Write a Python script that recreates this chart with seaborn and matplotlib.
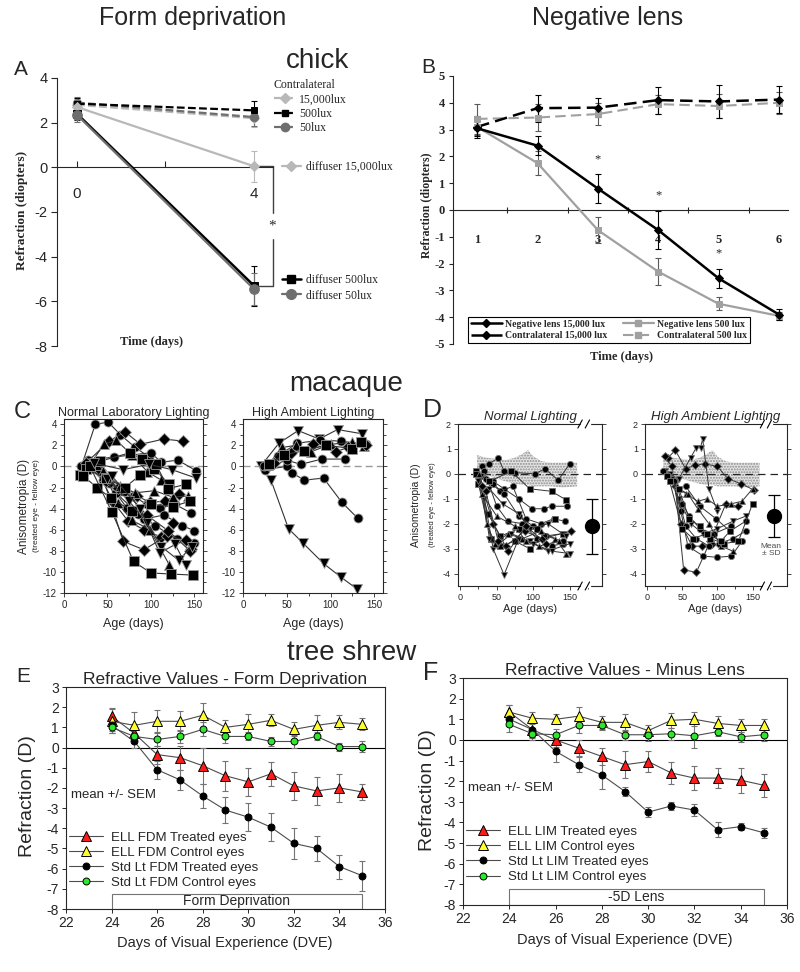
import numpy as np
import pandas as pd
import matplotlib.pyplot as plt
import seaborn as sns
from matplotlib.lines import Line2D
from matplotlib.patches import Rectangle
from matplotlib.ticker import MultipleLocator, FixedLocator

# ---------------- data ----------------
# A: chick, form deprivation (refraction, D)
a_days = [0, 4]
a_contra_15000 = [2.8, 2.2]
a_contra_500 = [2.85, 2.55]
a_contra_50 = [2.9, 2.25]
a_contra_err = [0.25, 0.4]
a_diff_15000 = [2.7, 0.05]
a_diff_15000_err = [0.3, 0.7]
a_diff_500 = [2.4, -5.3]
a_diff_500_err = [0.3, 0.9]
a_diff_50 = [2.35, -5.45]
a_diff_50_err = [0.3, 0.7]

# B: chick, negative lens
b_days = [1, 2, 3, 4, 5, 6]
b_neg_15000 = [3.05, 2.4, 0.8, -0.75, -2.55, -3.9]
b_neg_15000_err = [0.3, 0.35, 0.55, 0.7, 0.35, 0.2]
b_neg_500 = [3.1, 1.75, -0.75, -2.3, -3.5, -3.95]
b_neg_500_err = [0.3, 0.45, 0.5, 0.5, 0.25, 0.15]
b_con_15000 = [3.1, 3.8, 3.82, 4.1, 4.05, 4.12]
b_con_15000_err = [0.4, 0.5, 0.35, 0.5, 0.6, 0.5]
b_con_500 = [3.4, 3.45, 3.58, 3.95, 3.88, 4.0]
b_con_500_err = [0.55, 0.5, 0.4, 0.35, 0.45, 0.4]
b_star_days = [3, 4, 5]
b_star_vals = [1.9, 0.55, -1.6]

# C: macaque, individual animals (age in days, anisometropia D)
c_norm_shapes = ['o', 'D', '^', 's', 'o', 'v', 's', 'D', 'o', '^',
                 's', 'D', 'o', '^', 's', 'D', 'v', 'o', 'v', 'D']
c_norm_ages = [
    [20, 36, 51, 65, 82, 98], [25, 52, 70, 88, 115, 137], [30, 46, 60, 78, 96, 112],
    [18, 42, 76, 90, 104, 121], [28, 58, 100, 112, 131, 152], [35, 68, 98, 124, 152],
    [25, 48, 70, 88, 106, 120, 140], [40, 62, 84, 99, 116, 132],
    [30, 45, 66, 80, 95, 110, 128, 146], [38, 65, 82, 104, 125, 143],
    [22, 38, 54, 78, 100, 125, 145], [35, 58, 74, 92, 112, 125],
    [26, 52, 72, 92, 115, 136, 150], [45, 62, 78, 99, 121], [30, 55, 80, 100, 123, 148],
    [42, 68, 92, 118, 140, 146], [50, 75, 96, 112, 132, 147], [60, 85, 105, 130, 150],
    [55, 88, 110, 128, 140], [48, 70, 95, 120, 145]]
c_norm_vals = [
    [0.0, 4.0, 4.2, 3.0, 1.8, 0.9], [0.3, 2.4, 3.3, 2.1, 2.6, 2.4], [0.2, 2.1, 2.5, 1.1, -0.5, -1.3],
    [-0.8, 0.5, 1.3, 0.7, -0.2, -1.7], [0.6, 0.9, 1.3, 0.4, 0.6, -0.4], [0.3, -0.3, 0.2, -0.3, -1.1],
    [-0.2, -1.1, -2.0, -0.8, 0.2, -2.1, -1.7], [-0.4, -2.0, -2.8, -3.4, -3.3, -2.6],
    [-0.2, -1.3, -2.3, -2.8, -3.6, -3.9, -3.6, -4.4], [0.1, -1.9, -2.5, -2.3, -2.9, -2.8],
    [-0.9, -2.0, -3.0, -4.2, -3.6, -3.8, -3.3], [0.0, -3.5, -5.2, -6.0, -6.7, -5.4],
    [0.3, -1.6, -3.9, -5.0, -4.6, -5.6, -6.1], [-0.4, -3.5, -5.1, -6.0, -9.3],
    [0.0, -4.3, -9.0, -10.1, -10.2, -10.3], [-0.3, -7.1, -7.9, -6.6, -7.0, -7.8],
    [-1.2, -3.3, -5.4, -7.6, -8.9, -7.6], [-2.5, -4.5, -5.6, -6.9, -7.3],
    [-0.9, -4.0, -8.2, -7.4, -9.3], [-1.4, -2.3, -4.6, -6.1, -8.0]]

c_high_shapes = ['v', 'o', 'o', 'v', '^', 'D', 'o', 's']
c_high_ages = [
    [22, 32, 52, 69, 92, 112, 130], [25, 50, 56, 70, 92, 113, 131], [30, 50, 66, 90, 116],
    [20, 41, 63, 87, 108, 136], [28, 45, 60, 78, 100, 125, 138], [35, 55, 80, 106, 120, 140],
    [24, 40, 62, 88, 112, 140], [30, 47, 70, 95, 125, 135]]
c_high_vals = [
    [0.0, -1.3, -5.9, -7.3, -9.2, -10.5, -11.6], [-0.3, 0.0, -0.6, -1.3, -1.1, -3.4, -4.9],
    [0.0, 0.6, 0.2, 0.7, 0.7], [0.0, 2.2, 3.4, 2.6, 3.5, 3.1], [0.1, 1.8, 2.0, 1.4, 2.1, 2.3, 1.9],
    [0.3, 1.3, 2.1, 1.4, 1.8, 2.0], [0.0, 1.0, 2.2, 2.5, 2.4, 2.1], [0.2, 1.1, 1.5, 2.0, 1.7, 2.3]]

# D: macaque, individual animals
d_norm_shapes = ['o', 's', 'o', 'o', 'v', '^', 's', 'D', 'v', 'o', 's', '^', 'D', 'v', 'o']
d_norm_ages = [
    [30, 40, 52, 60, 75, 102, 116, 134, 150], [22, 40, 70, 95, 125, 145],
    [28, 45, 60, 80, 98, 114, 125, 146], [35, 55, 72, 90, 110, 128, 143],
    [24, 32, 40, 50, 70, 95, 120, 150], [26, 36, 48, 65, 85, 110, 130, 145],
    [22, 38, 55, 80, 105, 130], [30, 45, 62, 88, 112, 152], [28, 45, 60, 80, 100, 125, 150],
    [33, 50, 65, 85, 105, 125, 140], [25, 42, 55, 75, 95, 115, 140], [30, 50, 75, 90, 108, 135],
    [35, 52, 66, 90, 118], [40, 58, 80, 95, 120, 145], [45, 60, 80, 100, 118, 140]]
d_norm_vals = [
    [0.3, 0.4, 0.65, 0.1, 0.05, 0.0, 0.2, -0.25, 0.4], [0.1, -0.3, 0.1, -0.6, -0.7, -1.05],
    [-0.1, -0.3, -0.6, -1.0, -1.4, -1.4, -1.3, -1.3], [-0.2, -0.7, -0.5, -1.8, -2.0, -1.8, -1.9],
    [-0.3, -1.0, -2.6, -2.9, -2.4, -2.7, -3.1, -2.8], [0.0, -2.0, -2.8, -2.4, -2.6, -2.3, -2.6, -3.2],
    [0.0, -1.6, -2.5, -2.2, -2.2, -1.8], [-0.5, -2.0, -2.9, -2.3, -2.6, -2.3],
    [-0.1, -3.0, -4.05, -2.6, -2.8, -3.1, -3.2], [0.1, -1.3, -1.9, -2.0, -2.6, -2.9, -2.8],
    [-0.4, -2.6, -2.9, -2.7, -3.0, -2.5, -2.4], [-0.8, -1.7, -2.1, -2.7, -2.9, -2.7],
    [-0.7, -2.7, -3.1, -2.1, -2.8], [-0.6, -1.2, -1.6, -2.2, -2.0, -2.5],
    [-0.4, -0.8, -1.7, -2.1, -2.5, -2.7]]

d_high_shapes = ['D', 'v', 'o', '^', 's', 'D', 'o', 'v', 'o', '^', 's', 'D', 'o']
d_high_ages = [
    [30, 40, 55, 68, 82, 100, 115, 134, 152], [25, 45, 62, 70, 76, 79, 88, 100],
    [22, 30, 40, 50, 60, 75, 95, 120], [30, 42, 55, 72, 85, 100, 120, 135, 150],
    [28, 45, 60, 75, 90, 110, 130, 150], [40, 52, 70, 90, 112, 130],
    [35, 48, 58, 80, 100, 120, 135], [32, 45, 62, 80, 100, 122, 140],
    [38, 55, 70, 88, 102, 122, 140], [45, 58, 72, 88, 105, 122],
    [32, 50, 65, 85, 105, 118], [25, 35, 48, 64, 78, 92], [55, 75, 98, 118, 140]]
d_high_vals = [
    [0.65, 0.95, 0.2, 0.35, 0.4, 0.3, -0.2, -0.4, -0.65], [0.1, -0.2, 0.65, 1.05, 1.05, 1.4, -0.6, -1.5],
    [0.1, -0.1, -0.3, -1.2, -1.7, -2.2, -2.4, -2.1], [0.0, -0.5, -0.8, -1.1, -1.0, -1.3, -1.2, -1.1, -0.6],
    [-0.1, -0.6, -1.8, -2.1, -2.6, -2.8, -2.7, -1.2], [-0.5, -3.85, -3.95, -2.7, -1.2, -1.3],
    [-0.2, -1.5, -2.9, -3.3, -3.35, -3.3, -2.7], [0.0, -1.0, -2.0, -2.4, -2.2, -1.9, -1.7],
    [-0.3, -2.1, -2.6, -2.9, -2.8, -2.6, -2.3], [-0.6, -0.8, -1.4, -2.0, -2.9, -3.1],
    [-0.3, -2.2, -2.6, -2.4, -2.7, -2.3], [0.7, 0.3, -2.0, -2.9, -2.9, -2.8],
    [-0.5, -1.3, -1.8, -2.3, -1.9]]

# normal range band (controls)
band_ages = [23, 35, 50, 62, 75, 85, 93, 100, 112, 125, 140, 160]
band_hi = [0.75, 0.65, 0.6, 0.55, 0.65, 0.8, 0.95, 0.7, 0.5, 0.45, 0.45, 0.45]
band_lo = [0.05, -0.05, -0.2, -0.3, -0.4, -0.45, -0.45, -0.5, -0.5, -0.5, -0.55, -0.5]
d_mean_age = 180
d_norm_mean, d_norm_sd = -2.1, 1.1
d_high_mean, d_high_sd = -1.7, 0.85

# E / F: tree shrew
e_days = list(range(24, 36))
e_ell_treated = [1.55, 0.7, -0.35, -0.5, -0.9, -1.4, -1.7, -1.3, -1.9, -2.15, -2.0, -2.2]
e_ell_treated_err = [0.4, 0.45, 0.45, 0.6, 0.9, 0.75, 0.7, 0.6, 0.7, 0.7, 0.7, 0.4]
e_ell_control = [1.3, 1.1, 1.3, 1.3, 1.6, 1.0, 1.15, 1.35, 0.9, 1.1, 1.25, 1.15]
e_ell_control_err = [0.6, 0.65, 0.55, 0.5, 0.6, 0.35, 0.5, 0.3, 0.35, 0.5, 0.35, 0.3]
e_std_treated = [1.1, 0.3, -1.1, -1.6, -2.4, -3.1, -3.45, -3.95, -4.75, -5.0, -5.9, -6.35]
e_std_treated_err = [0.3, 0.3, 0.45, 0.5, 0.6, 0.65, 0.7, 0.7, 0.75, 0.6, 0.6, 0.75]
e_std_control = [1.0, 0.55, 0.4, 0.55, 0.9, 0.55, 0.55, 0.3, 0.3, 0.55, 0.05, 0.05]
e_std_control_err = [0.3, 0.3, 0.3, 0.3, 0.35, 0.3, 0.2, 0.2, 0.3, 0.2, 0.2, 0.25]

f_days = list(range(24, 36))
f_ell_treated = [1.35, 0.5, 0.0, -0.4, -0.8, -1.2, -1.05, -1.6, -1.85, -1.85, -1.95, -2.2]
f_ell_treated_err = [0.35, 0.35, 0.35, 0.4, 0.4, 0.65, 0.5, 0.55, 0.6, 0.5, 0.6, 0.55]
f_ell_control = [1.35, 1.05, 1.0, 1.15, 0.85, 0.85, 0.45, 0.95, 1.0, 0.8, 0.7, 0.7]
f_ell_control_err = [0.35, 0.3, 0.25, 0.45, 0.3, 0.4, 0.25, 0.35, 0.35, 0.35, 0.3, 0.3]
f_std_treated = [1.0, 0.5, -0.55, -1.2, -1.7, -2.5, -3.5, -3.2, -3.4, -4.35, -4.2, -4.5]
f_std_treated_err = [0.3, 0.4, 0.5, 0.35, 0.7, 0.2, 0.25, 0.2, 0.3, 0.35, 0.15, 0.25]
f_std_control = [0.75, 0.3, 0.25, 0.7, 0.7, 0.25, 0.25, 0.3, 0.2, 0.4, 0.15, 0.25]
f_std_control_err = [0.35, 0.3, 0.3, 0.35, 0.2, 0.25, 0.3, 0.3, 0.6, 0.2, 0.25, 0.3]

# ---------------- style ----------------
sns.set_style('ticks')
plt.rcParams['font.family'] = ['Liberation Sans', 'DejaVu Sans']
plt.rcParams['axes.unicode_minus'] = False
plt.rcParams['axes.linewidth'] = 0.8
SERIF = ['Liberation Serif', 'DejaVu Serif']

W, H = 800, 972
fig = plt.figure(figsize=(W / 100, H / 100), dpi=100)


def add_ax(l, t, r, b):
    return fig.add_axes([l / W, 1 - b / H, (r - l) / W, (b - t) / H])


def ftext(x, y, s, **kw):
    kw.setdefault('ha', 'center')
    kw.setdefault('va', 'center')
    fig.text(x / W, 1 - y / H, s, **kw)


def draw(ax, x, y, err, color, marker, ms, ls='-', lw=1.5, mfc=None, mec=None,
         ecolor=None, capsize=2, label=None, z=3):
    if err is not None:
        ax.errorbar(x, y, yerr=err, fmt='none', ecolor=ecolor or color,
                    elinewidth=0.8, capsize=capsize, capthick=0.8, zorder=z - 1)
    sns.lineplot(x=x, y=y, ax=ax, color=color, lw=lw, linestyle=ls, marker=marker,
                 markersize=ms, markerfacecolor=mfc or color,
                 markeredgecolor=mec or color, markeredgewidth=0.7,
                 label=label, zorder=z, legend=False if label is None else 'auto')


def animal_lines(ax, shapes, ages, vals, ms, mec, lw):
    rows = []
    for i, (m, a, v) in enumerate(zip(shapes, ages, vals)):
        for x, y in zip(a, v):
            rows.append({'animal': i, 'shape': m, 'age': x, 'aniso': y})
    df = pd.DataFrame(rows)
    sns.lineplot(data=df, x='age', y='aniso', units='animal', estimator=None,
                 style='shape', markers={s: s for s in set(shapes)}, dashes=False,
                 color='0.2', lw=lw, markersize=ms, markerfacecolor='k',
                 markeredgecolor=mec, markeredgewidth=0.6, legend=False, ax=ax)
    ax.set_xlabel('')
    ax.set_ylabel('')


# ---------------- headers ----------------
ftext(193, 18, 'Form deprivation', fontsize=18)
ftext(608, 18, 'Negative lens', fontsize=18)
ftext(318, 68, 'chick', fontsize=20, va='baseline')
ftext(346, 391, 'macaque', fontsize=20, va='baseline')
ftext(352, 660, 'tree shrew', fontsize=20, va='baseline')
ftext(21, 75, 'A', fontsize=15, va='baseline')
ftext(428, 73, 'B', fontsize=15, va='baseline')
ftext(22, 418, 'C', fontsize=17, va='baseline')
ftext(432, 417, 'D', fontsize=19, va='baseline')
ftext(23, 682, 'E', fontsize=15, va='baseline')
ftext(431, 680, 'F', fontsize=18, va='baseline')

# ---------------- A ----------------
LG, DG = '#b8b8b8', '#6e6e6e'
axA = add_ax(57, 78, 273, 346)
dash = (0, (3.5, 1.5))
draw(axA, a_days, a_contra_15000, a_contra_err, LG, 'D', 5, ls=dash, lw=1.6)
draw(axA, a_days, a_contra_50, a_contra_err, DG, 'o', 6, ls=dash, lw=1.6)
draw(axA, a_days, a_contra_500, a_contra_err, 'k', 's', 5, ls=dash, lw=1.6)
draw(axA, a_days, a_diff_15000, a_diff_15000_err, LG, 'D', 5, lw=1.6)
draw(axA, a_days, a_diff_500, a_diff_500_err, 'k', 's', 6, lw=1.8)
draw(axA, a_days, a_diff_50, a_diff_50_err, DG, 'o', 7, lw=1.6)
axA.set_xlim(-0.45, 4.43)
axA.set_ylim(-8, 4)
for s in ['top', 'right']:
    axA.spines[s].set_visible(False)
axA.spines['bottom'].set_position(('data', 0))
axA.set_xticks([0, 2, 4])
axA.set_xticklabels(['0', '', '4'])
axA.tick_params(axis='x', direction='in', length=4, width=0.8, pad=14, labelsize=11)
axA.set_yticks(range(-8, 5, 2))
axA.tick_params(axis='y', length=4, width=0.8, labelsize=10.5, pad=3)
axA.set_xlabel('')
axA.set_ylabel('')
bx = 4.42
axA.plot([a_days[1] + 0.08, bx, bx, a_days[1] + 0.08],
         [a_diff_15000[1], a_diff_15000[1], a_diff_500[1], a_diff_500[1]],
         color='0.25', lw=1, clip_on=False)
axA.text(bx, (a_diff_15000[1] + a_diff_500[1]) / 2, '*', ha='center', va='center',
         fontsize=11, backgroundcolor='white', family=SERIF)
ftext(22, 210, 'Refraction (diopters)', rotation=90, fontsize=9.5,
      fontweight='bold', family=SERIF)
ftext(151, 342, 'Time (days)', fontsize=9, fontweight='bold', family=SERIF)

lprop = {'family': SERIF, 'size': 8.5}
hA1 = [Line2D([], [], color=LG, marker='D', ms=5, ls=dash, lw=1.6),
       Line2D([], [], color='k', marker='s', ms=5, ls=dash, lw=1.6),
       Line2D([], [], color=DG, marker='o', ms=6, ls=dash, lw=1.6)]
fig.legend(hA1, ['15,000lux', '500lux', '50lux'], loc='upper left',
           bbox_to_anchor=(274 / W, 1 - 79 / H), title='Contralateral',
           alignment='left', title_fontproperties=lprop, prop=lprop, frameon=False,
           handlelength=1.8, handletextpad=0.3, labelspacing=0.2, borderpad=0,
           borderaxespad=0)
fig.legend([Line2D([], [], color=LG, marker='D', ms=5, lw=1.6)], ['diffuser 15,000lux'],
           loc='center left', bbox_to_anchor=(282 / W, 1 - 167 / H), prop=lprop,
           frameon=False, handlelength=1.6, handletextpad=0.4, borderpad=0, borderaxespad=0)
fig.legend([Line2D([], [], color='k', marker='s', ms=6, lw=1.8),
            Line2D([], [], color=DG, marker='o', ms=7, lw=1.6)],
           ['diffuser 500lux', 'diffuser 50lux'], loc='upper left',
           bbox_to_anchor=(282 / W, 1 - 274 / H), prop=lprop, frameon=False,
           handlelength=1.6, handletextpad=0.4, labelspacing=0.3, borderpad=0,
           borderaxespad=0)

# ---------------- B ----------------
GB = '#a0a0a0'
axB = add_ax(453, 76, 788, 344)
draw(axB, b_days, b_con_500, b_con_500_err, GB, 's', 5, ls=(0, (5, 2.5)), lw=1.5, capsize=2.5, ecolor='0.35')
draw(axB, b_days, b_con_15000, b_con_15000_err, 'k', 'D', 4, ls=(0, (5, 2.5)), lw=1.8, capsize=2.5)
draw(axB, b_days, b_neg_500, b_neg_500_err, GB, 's', 5, lw=1.6, capsize=2.5, ecolor='0.35')
draw(axB, b_days, b_neg_15000, b_neg_15000_err, 'k', 'D', 4, lw=1.8, capsize=2.5)
for d, v in zip(b_star_days, b_star_vals):
    axB.text(d, v, '*', ha='center', va='center', fontsize=9, family=SERIF)
axB.set_xlim(0.6, 6.15)
axB.set_ylim(-5, 5)
for s in ['top', 'right']:
    axB.spines[s].set_visible(False)
axB.spines['bottom'].set_position(('data', 0))
axB.set_xticks(b_days)
axB.set_xticklabels([str(d) for d in b_days])
axB.xaxis.set_minor_locator(FixedLocator([d + 0.5 for d in b_days[:-1]]))
axB.tick_params(axis='x', which='major', length=0, pad=17)
axB.tick_params(axis='x', which='minor', length=5, width=0.8, direction='inout')
axB.set_yticks(range(-5, 6))
axB.tick_params(axis='y', length=3, width=0.8, pad=3)
for lab in axB.get_xticklabels() + axB.get_yticklabels():
    lab.set_family(SERIF)
    lab.set_fontweight('bold')
    lab.set_fontsize(9)
axB.set_xlabel('')
axB.set_ylabel('')
ftext(427, 205, 'Refraction (diopters)', rotation=90, fontsize=8.5,
      fontweight='bold', family=SERIF)
ftext(621, 357, 'Time (days)', fontsize=9, fontweight='bold', family=SERIF)
hB = [Line2D([], [], color='k', marker='D', ms=4, lw=1.8),
      Line2D([], [], color='k', marker='D', ms=4, lw=1.8, ls=(0, (5, 2.5))),
      Line2D([], [], color=GB, marker='s', ms=5, lw=1.6),
      Line2D([], [], color=GB, marker='s', ms=5, lw=1.5, ls=(0, (5, 2.5)))]
legB = fig.legend(hB, ['Negative lens 15,000 lux', 'Contralateral 15,000 lux',
                       'Negative lens 500 lux', 'Contralateral 500 lux'],
                  ncol=2, loc='lower left', bbox_to_anchor=(468 / W, 1 - 343 / H),
                  prop={'family': SERIF, 'size': 7, 'weight': 'bold'},
                  frameon=True, fancybox=False, edgecolor='k', framealpha=1,
                  handlelength=3.2, handletextpad=0.3, columnspacing=1.6,
                  labelspacing=0.25, borderpad=0.3, borderaxespad=0)
legB.get_frame().set_linewidth(0.8)

# ---------------- C ----------------
axC1 = add_ax(64, 419, 203, 593)
axC2 = add_ax(243, 419, 383, 593)
for ax, title, shapes, ages, vals in [
        (axC1, 'Normal Laboratory Lighting', c_norm_shapes, c_norm_ages, c_norm_vals),
        (axC2, 'High Ambient Lighting', c_high_shapes, c_high_ages, c_high_vals)]:
    ax.axhline(0, color='0.6', ls=(0, (5, 3)), lw=1, zorder=0)
    animal_lines(ax, shapes, ages, vals, ms=6.5, mec='0.6', lw=0.8)
    ax.set_xlim(0, 160)
    ax.set_ylim(-12, 4.5)
    ax.set_yticks(range(-12, 5, 2))
    ax.yaxis.set_minor_locator(MultipleLocator(1))
    ax.set_xticks([0, 50, 100, 150])
    ax.xaxis.set_minor_locator(MultipleLocator(25))
    ax.tick_params(which='both', right=True, labelsize=7, length=3, width=0.6, pad=2)
    ax.tick_params(which='minor', length=2)
    ax.set_title(title, fontsize=9, pad=2)
    ftext((ax.get_position().x0 + ax.get_position().x1) / 2 * W, 624, 'Age (days)', fontsize=9)
ftext(24, 506, 'Anisometropia (D)', rotation=90, fontsize=8.5)
ftext(37, 506, '(treated eye - fellow eye)', rotation=90, fontsize=6)

# ---------------- D ----------------
axD1 = add_ax(458, 424, 602, 586)
axD2 = add_ax(645, 424, 787, 586)
for ax, title, shapes, ages, vals, mean, sd, xmax in [
        (axD1, 'Normal Lighting', d_norm_shapes, d_norm_ages, d_norm_vals,
         d_norm_mean, d_norm_sd, 194),
        (axD2, 'High Ambient Lighting', d_high_shapes, d_high_ages, d_high_vals,
         d_high_mean, d_high_sd, 199)]:
    ax.fill_between(band_ages, band_lo, band_hi, facecolor='0.9', edgecolor='0.55',
                    hatch='......', lw=0, zorder=0)
    ax.axhline(0, color='0.15', ls=(0, (6, 4)), lw=0.9, zorder=1)
    animal_lines(ax, shapes, ages, vals, ms=4.5, mec='0.45', lw=0.7)
    ax.errorbar([d_mean_age], [mean], yerr=[sd], fmt='o', color='k', ms=10,
                capsize=4, elinewidth=0.9, capthick=0.9, zorder=4)
    ax.set_xlim(-3, xmax)
    ax.set_ylim(-4.5, 2)
    ax.set_yticks(range(-4, 3))
    ax.set_xticks([0, 50, 100, 150])
    ax.xaxis.set_minor_locator(MultipleLocator(25))
    ax.tick_params(which='both', right=True, labelsize=6.5, length=3, width=0.6, pad=2)
    ax.tick_params(which='minor', length=2)
    ax.set_title(title, fontsize=9.5, style='italic', pad=3)
    tr = ax.get_xaxis_transform()
    for yy in (0, 1):
        ax.plot([166, 176], [yy, yy], color='white', lw=2.5, transform=tr,
                clip_on=False, zorder=6)
        for xx in (164, 174):
            ax.plot([xx - 3, xx + 3], [yy - 0.025, yy + 0.025], color='k', lw=0.8,
                    transform=tr, clip_on=False, zorder=7)
ftext(530, 609, 'Age (days)', fontsize=8)
ftext(715, 609, 'Age (days)', fontsize=8)
ftext(771, 550, 'Mean\n± SD', fontsize=6, color='0.3', linespacing=1.1)
ftext(416, 505, 'Anisometropia (D)', rotation=90, fontsize=7.5)
ftext(432, 505, '(treated eye - fellow eye)', rotation=90, fontsize=5.5)

# ---------------- E / F ----------------
RED, YEL, GRN = '#ff1a1a', '#ffff2e', '#2ee62e'
axE = add_ax(66, 687, 385, 909)
axF = add_ax(463, 678, 787, 905)
for ax, days, series, tag, title, box, ty in [
        (axE, e_days,
         [(e_ell_treated, e_ell_treated_err), (e_ell_control, e_ell_control_err),
          (e_std_treated, e_std_treated_err), (e_std_control, e_std_control_err)],
         'FDM', 'Refractive Values - Form Deprivation', 'Form Deprivation', 2.5),
        (axF, f_days,
         [(f_ell_treated, f_ell_treated_err), (f_ell_control, f_ell_control_err),
          (f_std_treated, f_std_treated_err), (f_std_control, f_std_control_err)],
         'LIM', 'Refractive Values - Minus Lens', '-5D Lens', 0.5)]:
    ax.axhline(0, color='k', lw=0.8, zorder=1)
    styles = [('^', RED, 7, f'ELL {tag} Treated eyes'),
              ('^', YEL, 7, f'ELL {tag} Control eyes'),
              ('o', 'k', 5, f'Std Lt {tag} Treated eyes'),
              ('o', GRN, 5, f'Std Lt {tag} Control eyes')]
    for (vals, errs), (m, fc, ms, lab) in zip(series, styles):
        draw(ax, days, vals, errs, '0.3', m, ms, lw=0.8, mfc=fc, mec='k',
             ecolor='0.45', capsize=2.5, label=lab)
    ax.add_patch(Rectangle((days[0], -8), days[-1] - days[0], 0.76, fill=False,
                           ec='0.45', lw=0.8, zorder=2))
    ax.text((days[0] + days[-1]) / 2, -7.6, box, ha='center', va='center', fontsize=10)
    ax.set_xlim(22, 36)
    ax.set_ylim(-8, 3)
    ax.set_xticks(range(22, 37, 2))
    ax.set_yticks(range(-8, 4))
    ax.tick_params(labelsize=10, length=3, width=0.7, pad=2)
    ax.set_title(title, fontsize=12.5, pad=ty)
    ax.set_xlabel('')
    ax.set_ylabel('')
    ax.text(0.015, 0.515, 'mean +/- SEM', transform=ax.transAxes, ha='left',
            va='center', fontsize=9.5)
    ax.legend(loc='upper left', bbox_to_anchor=(0.008, 0.35), frameon=False,
              fontsize=9.5, handlelength=2.6, handletextpad=0.6, labelspacing=0.22,
              borderpad=0, borderaxespad=0)
ftext(28, 796, 'Refraction (D)', rotation=90, fontsize=14)
ftext(428, 790, 'Refraction (D)', rotation=90, fontsize=14)
ftext(225, 943, 'Days of Visual Experience (DVE)', fontsize=10.5)
ftext(625, 940, 'Days of Visual Experience (DVE)', fontsize=10.5)

fig.savefig('out.png', dpi=100)
